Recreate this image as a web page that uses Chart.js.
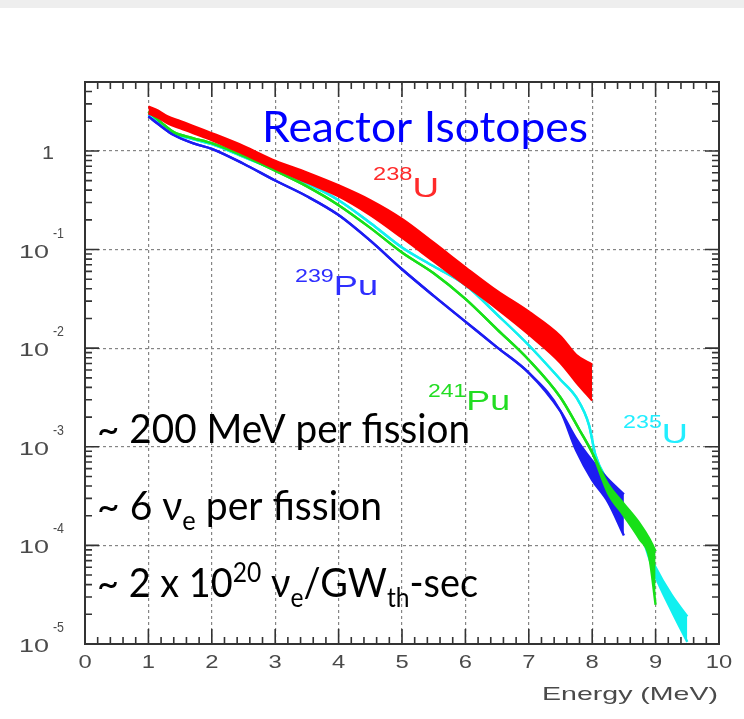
<!DOCTYPE html>
<html>
<head>
<meta charset="utf-8">
<script src="https://cdn.jsdelivr.net/npm/chart.js@4"></script>
<style>
  html, body { margin: 0; padding: 0; background: #fff; }
  #wrap { position: relative; width: 744px; height: 719px; }
  #topStrip { position: absolute; left: 0; top: 0; width: 744px; height: 8px; background: #eeeeee; }
</style>
</head>
<body>
<div id="wrap">
  <div id="topStrip"></div>
  <canvas id="spectrum"></canvas>
</div>
<script>
// Antineutrino spectra per fission for the four reactor isotopes.
// Each isotope is a band: upper and lower edge, equal where the curve is thin.

const u238Energy = [1.0, 1.15, 1.3, 1.5, 2.0, 2.5, 3.0, 3.5, 4.0, 4.5, 5.0, 5.5, 6.0, 6.5, 7.0, 7.5, 7.75, 8.0];
const u238Upper  = [2.82, 2.57, 2.24, 2.00, 1.51, 1.12, 0.794, 0.603, 0.447, 0.316, 0.204, 0.117, 0.066, 0.038, 0.0234, 0.0132, 0.0085, 0.0068];
const u238Lower  = [2.40, 2.19, 1.91, 1.70, 1.29, 0.933, 0.661, 0.479, 0.347, 0.224, 0.132, 0.0759, 0.0437, 0.0251, 0.0138, 0.0071, 0.0045, 0.00295];

const pu241Energy = [1.0, 1.2, 1.4, 1.7, 2.0, 2.5, 3.0, 3.5, 4.0, 4.5, 5.0, 5.5, 6.0, 6.5, 7.0, 7.5, 7.8, 8.0, 8.25, 8.5, 8.75, 8.9, 9.0];
const pu241Upper  = [2.51, 1.95, 1.55, 1.35, 1.20, 0.891, 0.631, 0.437, 0.282, 0.166, 0.0933, 0.0575, 0.0316, 0.0155, 0.00759, 0.00316, 0.00148, 0.00087, 4.17e-4, 2.63e-4, 1.66e-4, 1.17e-4, 8.7e-5];
const pu241Lower  = [2.51, 1.95, 1.55, 1.35, 1.20, 0.891, 0.631, 0.437, 0.282, 0.166, 0.0933, 0.0575, 0.0316, 0.0155, 0.00759, 0.00316, 0.00148, 0.00087, 3.39e-4, 2.00e-4, 1.15e-4, 7.6e-5, 2.5e-5];

const pu239Energy = [1.0, 1.2, 1.4, 1.7, 2.0, 2.5, 3.0, 3.5, 4.0, 4.5, 5.0, 5.5, 6.0, 6.5, 7.0, 7.5, 7.75, 8.0, 8.25, 8.5];
const pu239Upper  = [2.24, 1.78, 1.45, 1.20, 1.05, 0.741, 0.501, 0.347, 0.224, 0.123, 0.0631, 0.0339, 0.0186, 0.0102, 0.00562, 0.00229, 1.20e-3, 7.2e-4, 4.7e-4, 3.3e-4];
const pu239Lower  = [2.24, 1.78, 1.45, 1.20, 1.05, 0.741, 0.501, 0.347, 0.224, 0.123, 0.0631, 0.0339, 0.0186, 0.0102, 0.00562, 0.00229, 9.1e-4, 4.6e-4, 2.75e-4, 1.26e-4];

const u235Energy = [1.0, 1.2, 1.4, 1.7, 2.0, 2.5, 3.0, 3.5, 4.0, 4.5, 5.0, 5.5, 6.0, 6.5, 7.0, 7.5, 7.75, 7.95, 8.05, 8.25, 8.5, 8.75, 9.0, 9.25, 9.5];
const u235Upper  = [2.34, 1.91, 1.51, 1.32, 1.17, 0.871, 0.646, 0.468, 0.316, 0.186, 0.105, 0.0676, 0.0437, 0.0219, 0.0107, 0.00479, 0.00316, 0.00166, 0.00083, 4.4e-4, 2.4e-4, 1.38e-4, 6.0e-5, 3.16e-5, 1.9e-5];
const u235Lower  = [2.34, 1.91, 1.51, 1.32, 1.17, 0.871, 0.646, 0.468, 0.316, 0.186, 0.105, 0.0676, 0.0437, 0.0219, 0.0107, 0.00479, 0.00316, 0.00166, 0.00083, 4.4e-4, 2.4e-4, 1.38e-4, 4.8e-5, 2.19e-5, 1.05e-5];

const xTickLabels = ['0', '1', '2', '3', '4', '5', '6', '7', '8', '9', '10'];
const yDecades = [0, -1, -2, -3, -4, -5];

function bandDatasets(name, energy, upper, lower, color) {
    const common = {
        borderColor: color,
        backgroundColor: color,
        borderWidth: 2.4,
        pointRadius: 0,
        cubicInterpolationMode: 'monotone'
    };
    return [
        Object.assign({ label: name + ' low', data: energy.map((e, i) => ({ x: e, y: lower[i] })), fill: false }, common),
        Object.assign({ label: name + ' high', data: energy.map((e, i) => ({ x: e, y: upper[i] })), fill: '-1' }, common)
    ];
}

// draw a row of text runs (sub/superscripts), squeezed or stretched to a width
function drawRuns(ctx, runs, x, y, width, color) {
    ctx.save();
    let total = 0;
    runs.forEach(r => {
        ctx.font = r.font;
        r.w = ctx.measureText(r.t).width;
        total += r.w;
    });
    const sx = width ? width / total : 1;
    ctx.translate(x, y);
    ctx.scale(sx, 1);
    ctx.fillStyle = color;
    ctx.textBaseline = 'alphabetic';
    ctx.textAlign = 'left';
    let cx = 0;
    runs.forEach(r => {
        ctx.font = r.font;
        ctx.fillText(r.t, cx, r.dy || 0);
        cx += r.w;
    });
    ctx.restore();
}

function isDecade(v) {
    const l = Math.log10(v);
    return Math.abs(l - Math.round(l)) < 1e-6;
}

const frameAndLabels = {
    id: 'frameAndLabels',
    afterDraw(chart) {
        const ctx = chart.ctx;
        const area = chart.chartArea;
        const xs = chart.scales.x;
        const ys = chart.scales.y;

        // inward tick marks on all four sides
        ctx.save();
        ctx.strokeStyle = '#333';
        ctx.lineWidth = 1.6;
        ctx.beginPath();
        for (let i = 0; i <= 50; i++) {
            const px = xs.getPixelForValue(i * 0.2);
            const len = i % 5 === 0 ? 15 : 7;
            ctx.moveTo(px, area.bottom); ctx.lineTo(px, area.bottom - len);
            ctx.moveTo(px, area.top); ctx.lineTo(px, area.top + len);
        }
        for (let d = -5; d <= 0; d++) {
            for (let m = 1; m <= 9; m++) {
                const v = m * Math.pow(10, d);
                if (v > ys.max) continue;
                const py = ys.getPixelForValue(v);
                const len = m === 1 ? 14 : 7;
                ctx.moveTo(area.left, py); ctx.lineTo(area.left + len, py);
                ctx.moveTo(area.right, py); ctx.lineTo(area.right - len, py);
            }
        }
        ctx.stroke();

        // frame
        ctx.lineWidth = 2;
        ctx.strokeRect(area.left, area.top, area.right - area.left, area.bottom - area.top);
        ctx.restore();

        // axis numbers
        const axisFont = '19px "Liberation Sans", Arial, sans-serif';
        const supFont = '14px "Liberation Sans", Arial, sans-serif';
        xTickLabels.forEach((t, i) => {
            ctx.save();
            ctx.font = axisFont;
            const w = ctx.measureText(t).width * 1.25;
            ctx.restore();
            drawRuns(ctx, [{ t: t, font: axisFont }], xs.getPixelForValue(i) - w / 2, 668, w, '#4a4a4a');
        });
        yDecades.forEach(d => {
            const py = ys.getPixelForValue(Math.pow(10, d));
            if (d === 0) {
                drawRuns(ctx, [{ t: '1', font: axisFont }], 42, py + 8, 12, '#4a4a4a');
            } else {
                drawRuns(ctx, [{ t: '10', font: axisFont }], 19, py + 8, 30, '#4a4a4a');
                drawRuns(ctx, [{ t: String(d), font: supFont }], 53, py - 12, 11, '#4a4a4a');
            }
        });
        drawRuns(ctx, [{ t: 'Energy (MeV)', font: '19px "Liberation Sans", Arial, sans-serif' }], 542, 700, 176, '#4a4a4a');

        // isotope tags
        const tagBig = '28px "Liberation Sans", Arial, sans-serif';
        const tagSmall = '18px "Liberation Sans", Arial, sans-serif';
        drawRuns(ctx, [{ t: '238', font: tagSmall, dy: -17 }, { t: 'U', font: tagBig }], 373, 197, 66, '#ff2a2a');
        drawRuns(ctx, [{ t: '239', font: tagSmall, dy: -13 }, { t: 'Pu', font: tagBig }], 295, 295, 83, '#2e2eff');
        drawRuns(ctx, [{ t: '241', font: tagSmall, dy: -13 }, { t: 'Pu', font: tagBig }], 428, 410, 82, '#22dd22');
        drawRuns(ctx, [{ t: '235', font: tagSmall, dy: -15 }, { t: 'U', font: tagBig }], 623, 443, 65, '#22eeff');

        // headline and notes
        const big = '40px Lato, "Open Sans", sans-serif';
        const small = '26px Lato, "Open Sans", sans-serif';
        drawRuns(ctx, [{ t: 'Reactor Isotopes', font: '43px Lato, "Open Sans", sans-serif' }], 262, 142, 326, '#0000ff');
        drawRuns(ctx, [{ t: '~ 200 MeV per fission', font: big }], 97, 443, 373, '#000');
        drawRuns(ctx, [
            { t: '~ 6 ν', font: big },
            { t: 'e', font: small, dy: 10 },
            { t: ' per fission', font: big }
        ], 97, 520, 285, '#000');
        drawRuns(ctx, [
            { t: '~ 2 x 10', font: big },
            { t: '20', font: small, dy: -15 },
            { t: ' ν', font: big },
            { t: 'e', font: small, dy: 10 },
            { t: '/GW', font: big },
            { t: 'th', font: small, dy: 10 },
            { t: '-sec', font: big }
        ], 97, 597, 381, '#000');
    }
};

const datasets = [
    ...bandDatasets('238U', u238Energy, u238Upper, u238Lower, '#ff0000'),
    ...bandDatasets('241Pu', pu241Energy, pu241Upper, pu241Lower, '#18e018'),
    ...bandDatasets('239Pu', pu239Energy, pu239Upper, pu239Lower, '#1c1cf2'),
    ...bandDatasets('235U', u235Energy, u235Upper, u235Lower, '#10f0f0')
];

new Chart(document.getElementById('spectrum').getContext('2d'), {
    type: 'line',
    data: { datasets: datasets },
    options: {
        responsive: true,
        maintainAspectRatio: false,
        animation: false,
        layout: { padding: { left: 85, right: 25, top: 82, bottom: 75 } },
        plugins: {
            legend: { display: false },
            tooltip: { enabled: false }
        },
        scales: {
            x: {
                type: 'linear',
                min: 0,
                max: 10,
                ticks: { display: false, stepSize: 1 },
                grid: {
                    drawTicks: false,
                    lineWidth: 1.2,
                    color: ctx => (ctx.tick && ctx.tick.value > 0 && ctx.tick.value < 10) ? '#858585' : 'rgba(0,0,0,0)'
                },
                border: { display: false, dash: [3, 3] }
            },
            y: {
                type: 'logarithmic',
                min: 1e-5,
                max: 5,
                ticks: { display: false },
                grid: {
                    drawTicks: false,
                    lineWidth: 1.2,
                    color: ctx => (ctx.tick && isDecade(ctx.tick.value) && ctx.tick.value > 1.5e-5) ? '#858585' : 'rgba(0,0,0,0)'
                },
                border: { display: false, dash: [3, 3] }
            }
        }
    },
    plugins: [frameAndLabels]
});
</script>
</body>
</html>
